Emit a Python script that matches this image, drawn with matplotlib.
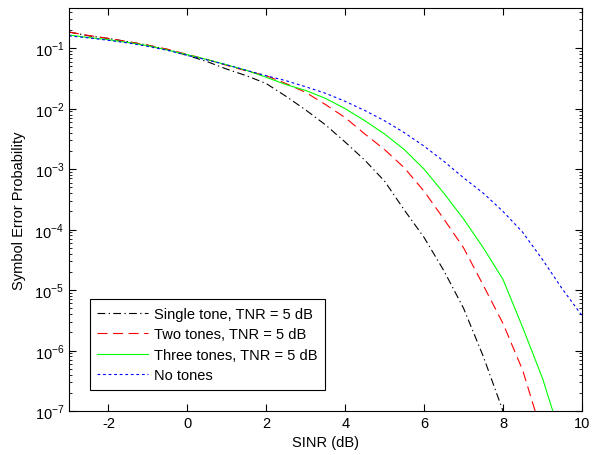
import matplotlib.pyplot as plt
from matplotlib.ticker import LogLocator, NullFormatter

plt.rcParams['font.family'] = ['Liberation Sans', 'DejaVu Sans']
plt.rcParams['mathtext.fontset'] = 'custom'
plt.rcParams['mathtext.rm'] = 'Liberation Sans'
plt.rcParams['axes.unicode_minus'] = False

# SINR grid (dB)
sinr = [-3, -2.5, -2, -1.5, -1, -0.5, 0, 0.5, 1, 1.5, 2, 2.5, 3, 3.5, 4, 4.5,
        5, 5.5, 6, 6.5, 7, 7.5, 8, 8.5, 9, 9.5, 10]

# symbol error probabilities
single_tone = [1.85e-1, 1.6e-1, 1.45e-1, 1.28e-1, 1.12e-1, 9.5e-2, 7.6e-2, 6.0e-2,
               4.5e-2, 3.5e-2, 2.6e-2, 1.6e-2, 9.5e-3, 5.4e-3, 2.8e-3, 1.4e-3,
               6.3e-4, 2.1e-4, 7.4e-5, 2.1e-5, 5.0e-6, 8.0e-7, 1.0e-7, 1.5e-8, 2e-9,
               2e-10, 2e-11]
two_tones = [1.85e-1, 1.62e-1, 1.45e-1, 1.28e-1, 1.12e-1, 9.6e-2, 7.9e-2, 6.5e-2,
             5.2e-2, 4.2e-2, 3.5e-2, 2.6e-2, 1.86e-2, 1.17e-2, 7.1e-3, 3.8e-3,
             2.1e-3, 1.05e-3, 4.3e-4, 1.5e-4, 5.0e-5, 1.2e-5, 2.8e-6, 4.7e-7, 4.0e-8,
             4e-9, 4e-10]
three_tones = [1.65e-1, 1.5e-1, 1.38e-1, 1.24e-1, 1.1e-1, 9.3e-2, 7.8e-2, 6.5e-2,
               5.3e-2, 4.3e-2, 3.3e-2, 2.5e-2, 2.0e-2, 1.48e-2, 1.0e-2, 6.3e-3,
               3.8e-3, 2.1e-3, 1.0e-3, 4.0e-4, 1.5e-4, 5.0e-5, 1.5e-5, 2.4e-6,
               3.5e-7, 3.2e-8, 3e-9]
no_tones = [1.6e-1, 1.48e-1, 1.35e-1, 1.22e-1, 1.07e-1, 9.2e-2, 7.6e-2, 6.4e-2,
            5.3e-2, 4.3e-2, 3.5e-2, 2.9e-2, 2.3e-2, 1.8e-2, 1.32e-2, 9.3e-3,
            6.3e-3, 4.0e-3, 2.4e-3, 1.35e-3, 7.2e-4, 4.0e-4, 2.0e-4, 9.0e-5,
            3.2e-5, 1.05e-5, 3.8e-6]

labels = ['Single tone, TNR = 5 dB', 'Two tones, TNR = 5 dB',
          'Three tones, TNR = 5 dB', 'No tones']
ytick_vals = [1e-7, 1e-6, 1e-5, 1e-4, 1e-3, 1e-2, 1e-1]

fig = plt.figure(figsize=(5.95, 4.56), dpi=100)
ax = fig.add_axes([0.116, 0.0965, 0.862, 0.8835])

ax.semilogy(sinr, single_tone, color='k', linestyle=(0, (7, 3, 1.2, 3)), lw=0.8, label=labels[0])
ax.semilogy(sinr, two_tones, color='#ff0000', linestyle=(0, (9, 5)), lw=0.8, label=labels[1])
ax.semilogy(sinr, three_tones, color='#00ff00', linestyle='-', lw=0.8, label=labels[2])
ax.semilogy(sinr, no_tones, color='#0000ff', linestyle=(0, (2.5, 2.5)), lw=0.8, label=labels[3])

ax.set_xlim(-3, 10)
ax.set_ylim(1e-7, 0.46)
ax.set_xticks([-2, 0, 2, 4, 6, 8, 10])
ax.set_yticks(ytick_vals)
ax.set_yticklabels(['$10^{%d}$' % e for e in range(-7, 0)])
ax.yaxis.set_minor_locator(LogLocator(base=10, subs=range(2, 10), numticks=20))
ax.yaxis.set_minor_formatter(NullFormatter())
ax.tick_params(which='both', direction='in', top=True, right=True, labelsize=10.5)
ax.tick_params(which='major', length=5)
ax.tick_params(which='minor', length=2.5)
for s in ax.spines.values():
    s.set_linewidth(0.8)

ax.set_xlabel('SINR (dB)', fontsize=10.5, labelpad=4)
ax.set_ylabel('Symbol Error Probability', fontsize=10.5, labelpad=6)

leg = ax.legend(loc='lower left', bbox_to_anchor=(0.027, 0.035), fontsize=10.5,
                fancybox=False, edgecolor='k', framealpha=1, handlelength=3.5,
                borderpad=0.5, labelspacing=0.45, handletextpad=0.4)
leg.get_frame().set_linewidth(0.8)

fig.savefig('out.png', dpi=100)
